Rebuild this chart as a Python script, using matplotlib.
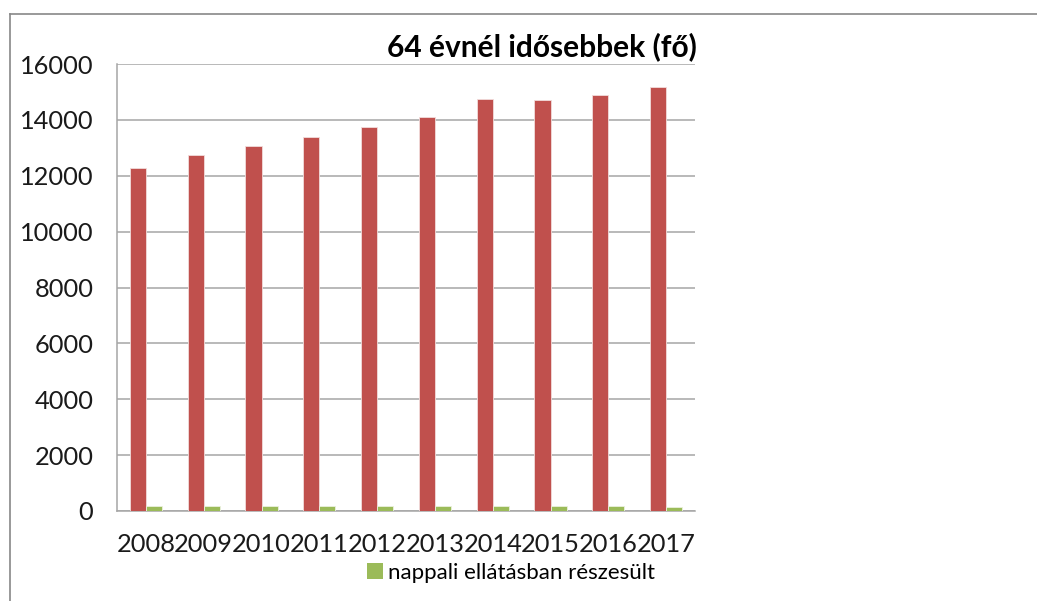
import matplotlib
matplotlib.use("Agg")
import matplotlib.pyplot as plt
import numpy as np
from matplotlib.lines import Line2D
from matplotlib.patches import Patch

years = ["2008", "2009", "2010", "2011", "2012", "2013", "2014", "2015", "2016", "2017"]
total_over64 = [12270, 12730, 13050, 13380, 13730, 14100, 14750, 14700, 14890, 15170]
day_care = [190, 190, 190, 190, 190, 190, 190, 190, 190, 150]

title = "64 évnél idősebbek (fő)"
legend_label = "nappali ellátásban részesült"
red_label = "64 évnél idősebbek"

plt.rcParams['font.family'] = ['Lato', 'DejaVu Sans']

fig = plt.figure(figsize=(10.37, 6.01), dpi=100)
ax = fig.add_axes([117/1037, 1 - 511/601, (695-117)/1037, (511-64)/601])

x = np.arange(len(years))
w = 0.28
ax.bar(x - w/2, total_over64, width=w, color="#C0504D", edgecolor="#F2DCDB", linewidth=0.6, label=red_label, zorder=3)
ax.bar(x + w/2, day_care, width=w, color="#9BBB59", edgecolor="#EBF1DE", linewidth=0.6, label=legend_label, zorder=3)

ax.set_xlim(-0.5, len(years) - 0.5)
ax.set_ylim(0, 16000)
ax.set_yticks(np.arange(0, 16001, 2000))
ax.set_xticks(x)
ax.set_xticklabels(years)
ax.yaxis.grid(True, color="#A6A6A6", linewidth=1.1, zorder=0)
ax.set_axisbelow(True)
for s in ["top", "right"]:
    ax.spines[s].set_visible(False)
for s in ["left", "bottom"]:
    ax.spines[s].set_color("#A6A6A6")
    ax.spines[s].set_linewidth(1.1)
ax.tick_params(axis="both", length=0, labelsize=18.3, colors="#1a1a1a")
ax.tick_params(axis="y", pad=17)
ax.tick_params(axis="x", pad=16)

fig.text(697/1037, 1 - 47/601, title, ha="right", va="center", fontsize=21.5, fontweight="bold", color="black")

leg = fig.legend(handles=[Patch(facecolor="#9BBB59", edgecolor="none")], labels=[legend_label],
                 loc="center", bbox_to_anchor=(511/1037, 1 - 573/601), frameon=False,
                 fontsize=16, handlelength=0.72, handleheight=0.72, handletextpad=0.25,
                 borderpad=0, borderaxespad=0)

# outer frame lines
fig.add_artist(Line2D([10/1037, 1.0], [1 - 13.5/601, 1 - 13.5/601], transform=fig.transFigure, color="#888888", linewidth=1.2))
fig.add_artist(Line2D([10/1037, 10/1037], [1 - 13.5/601, 0.0], transform=fig.transFigure, color="#888888", linewidth=1.2))

fig.savefig("out.png", dpi=100)
